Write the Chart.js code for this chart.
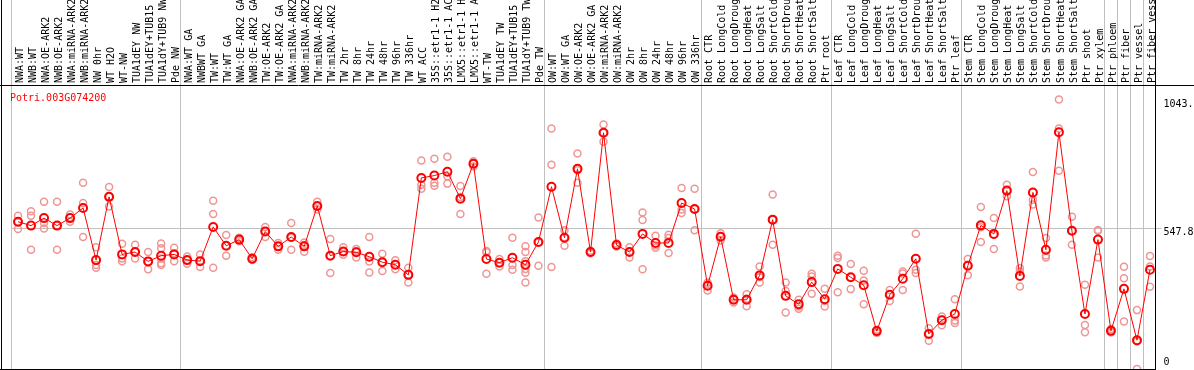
<!DOCTYPE html>
<html><head><meta charset="utf-8">
<script src="https://cdn.jsdelivr.net/npm/chart.js@4.4.0/dist/chart.umd.min.js"></script>
<style>html,body{margin:0;padding:0;background:#fff;overflow:hidden}#wrap{width:1194px;height:370px;position:relative}</style>
</head><body><div id="wrap"><canvas id="c" width="1194" height="370"></canvas></div>
<script>
const geneName = "Potri.003G074200";
const categories = [
"NWA:WT","NWB:WT","NWA:OE-ARK2","NWB:OE-ARK2","NWA:miRNA-ARK2","NWB:miRNA-ARK2","NW 0hr","WT H2O","WT-NW","TUA1dEY NW","TUA1dEY+TUB15 NW","TUA1dY+TUB9 NW","Pde NW",
"NWA:WT GA","NWBWT GA","TW:WT","TW:WT GA","NWA:OE-ARK2 GA","NWB:OE-ARK2 GA","TW:OE-ARK2","TW:OE-ARK2 GA","NWA:miRNA-ARK2 GA","NWB:miRNA-ARK2 GA","TW:miRNA-ARK2","TW:miRNA-ARK2 GA","TW 2hr","TW 8hr","TW 24hr","TW 48hr","TW 96hr","TW 336hr","WT ACC","35S::etr1-1 H2O","35S::etr1-1 ACC","LMX5::etr1-1 H2O","LMX5::etr1-1 ACC","WT-TW","TUA1dEY TW","TUA1dEY+TUB15 TW","TUA1dY+TUB9 TW","Pde TW",
"OW:WT","OW:WT GA","OW:OE-ARK2","OW:OE-ARK2 GA","OW:miRNA-ARK2","OW:miRNA-ARK2 GA","OW 2hr","OW 8hr","OW 24hr","OW 48hr","OW 96hr","OW 336hr",
"Root CTR","Root LongCold","Root LongDrought","Root LongHeat","Root LongSalt","Root ShortCold","Root ShortDrought","Root ShortHeat","Root ShortSalt","Ptr root",
"Leaf CTR","Leaf LongCold","Leaf LongDrought","Leaf LongHeat","Leaf LongSalt","Leaf ShortCold","Leaf ShortDrought","Leaf ShortHeat","Leaf ShortSalt","Ptr leaf",
"Stem CTR","Stem LongCold","Stem LongDrought","Stem LongHeat","Stem LongSalt","Stem ShortCold","Stem ShortDrought","Stem ShortHeat","Stem ShortSalt","Ptr shoot","Ptr xylem",
"Ptr phloem","Ptr fiber","Ptr vessel","Ptr fiber vessel"
];
const means = [
572,557,586,557,586,625,424,668,446,455,419,441,446,
424,420,552,479,503,429,534,477,513,477,633,441,457,454,437,416,406,367,741,750,765,661,796,428,414,433,406,494,
707,510,776,455,915,482,455,525,490,490,644,621,
325,514,271,271,365,580,286,254,339,273,
390,358,327,150,290,352,429,139,192,216,
402,558,525,692,363,685,464,917,537,216,503,
151,313,115,387
];
const replicates = [
[595,572,544],[612,595,464],[649,567,546],[649,557,464],[600,588,572],[722,644,513],[474,405,394],[706,668,631],[487,430,420],[483,455,430],[455,419,389],[488,470,430,405,412],[472,450,420],
[438,424,410],[446,420,397],[653,602,394],[521,479,441],[510,503,497],[435,429,424],[552,536,513],[490,477,464],[567,510,464],[492,482,456],[649,633,619],[505,441,374],[474,457,445],[467,458,434],[513,419,376],[448,416,382],[423,406,389],[394,367,338],[808,715,699],[815,722,711],[823,747,719],[710,667,602],[805,796,785],[459,454,371],[428,414,399],[510,405,387],[477,455,420,390,375,338],[588,492,402],
[932,792,397],[539,512,479],[835,771,722],[460,455,450],[947,915,881],[488,482,476],[474,455,434],[608,579,389],[518,480,472],[522,509,451],[702,619,606],[699,621,539],
[338,330,307],[528,514,500],[280,272,260],[292,275,246],[399,358,338],[677,580,483],[338,305,222],[271,245,236],[371,361,294],[313,265,245],
[441,432,300],[409,358,312],[383,345,254],[155,150,143],[309,292,266],[380,372,309],[526,387,374],[161,140,113],[206,195,173],[273,191,181],
[428,405,366],[629,551,494],[586,522,467],[715,691,670],[393,380,322],[764,657,638],[509,442,434],[1043.4,932,769],[591,537,483],[329,174,146],[540,537,434],
[158,150,145],[398,354,187],[231,110,4],[440,399,321]
];
const yTickValues = [0, 547.8, 1043.4];
const yMax = 1095.6;
const groupStarts = [0, 13, 41, 53, 63, 73, 84, 85, 86, 87];

const FONT = {family: "'DejaVu Sans Mono', monospace", size: 10};
const maxReps = Math.max(...replicates.map(r => r.length));
const repSets = [];
for (let k = 0; k < maxReps; k++) {
  repSets.push({
    type: 'line', showLine: false,
    data: replicates.map(r => (r[k] === undefined ? null : r[k])),
    borderColor: 'rgb(238,150,150)', backgroundColor: 'rgba(0,0,0,0)',
    pointRadius: 3.5, pointBorderWidth: 1.5, pointHoverRadius: 3.5, pointStyle: 'circle'
  });
}

const framePlugin = {
  id: 'frame',
  afterDraw(chart) {
    const c = chart.ctx;
    c.save();
    c.strokeStyle = '#000'; c.lineWidth = 1;
    c.beginPath();
    c.moveTo(0, 85.5); c.lineTo(1194, 85.5);
    c.moveTo(1.5, 0); c.lineTo(1.5, 370);
    c.moveTo(1155.5, 0); c.lineTo(1155.5, 370);
    c.moveTo(0, 369.5); c.lineTo(1156, 369.5);
    c.stroke();
    c.fillStyle = '#ff0000';
    c.font = "10px 'DejaVu Sans Mono', monospace";
    c.textBaseline = 'alphabetic';
    c.fillText(geneName, 10, 101);
    c.restore();
  }
};

new Chart(document.getElementById('c'), {
  type: 'line',
  data: {
    labels: categories,
    datasets: [{
      data: means,
      borderColor: '#ff0000', borderWidth: 1,
      backgroundColor: 'rgba(0,0,0,0)',
      pointBorderColor: '#ff0000', pointBackgroundColor: 'rgba(0,0,0,0)',
      pointRadius: 4, pointBorderWidth: 2, pointHoverRadius: 4,
      tension: 0
    }].concat(repSets)
  },
  options: {
    responsive: false, animation: false, devicePixelRatio: 1, events: [],
    layout: {autoPadding: false, padding: {left: 11.5, right: 0, top: 0, bottom: 0}},
    plugins: {legend: {display: false}, tooltip: {enabled: false}, title: {display: false}},
    scales: {
      x: {
        type: 'category', position: 'top', offset: true,
        border: {display: false},
        grid: {
          offset: true, drawOnChartArea: true, drawTicks: true, tickLength: 86, lineWidth: 1,
          color: (ctx) => (ctx.type === 'tick' && groupStarts.includes(ctx.index)) ? '#c0c0c0' : 'rgba(0,0,0,0)'
        },
        ticks: {
          autoSkip: false, minRotation: 90, maxRotation: 90, padding: -83, labelOffset: 14,
          color: '#000', font: FONT
        },
        afterFit(scale) { scale.height = 86; scale.paddingLeft = 0; scale.paddingRight = 0; }
      },
      y: {
        type: 'linear', position: 'right', min: 0, max: yMax,
        border: {display: false},
        grid: {
          drawTicks: true, tickLength: 5, lineWidth: 1,
          color: (ctx) => (ctx.tick && ctx.tick.value === yTickValues[1]) ? '#c0c0c0' : 'rgba(0,0,0,0)'
        },
        afterBuildTicks(scale) { scale.ticks = yTickValues.map(v => ({value: v})); },
        ticks: {
          padding: 2, color: '#000', font: FONT, labelOffset: -1.5,
          callback: (v) => v === 0 ? ['0', ''] : ['', String(v)]
        },
        afterFit(scale) { scale.width = 37.5; scale.paddingTop = 0; scale.paddingBottom = 0; }
      }
    }
  },
  plugins: [framePlugin]
});
</script>
</body></html>
